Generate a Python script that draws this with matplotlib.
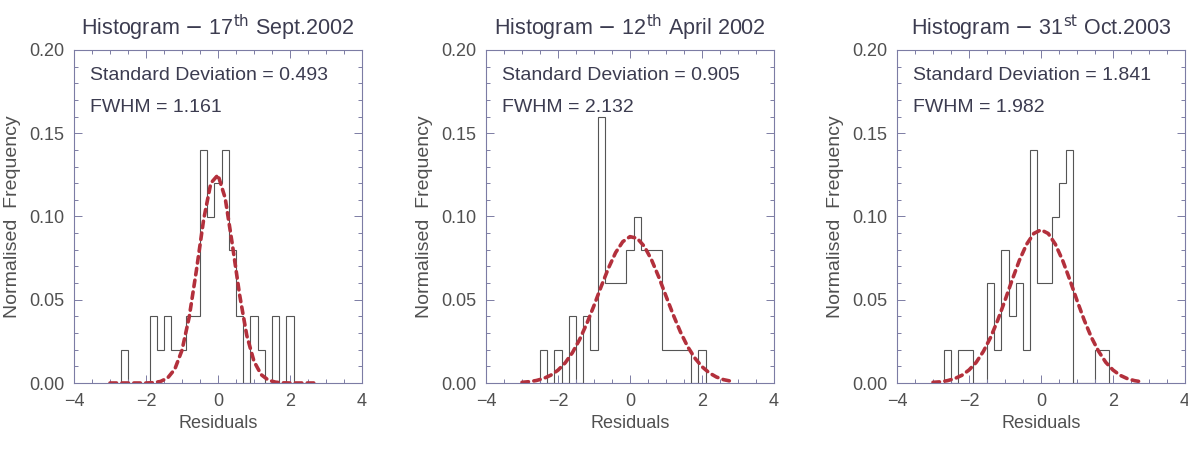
import matplotlib
matplotlib.use("Agg")
import matplotlib.pyplot as plt
from matplotlib.ticker import MultipleLocator

plt.rcParams['font.family'] = ['Liberation Sans', 'DejaVu Sans']

# panel titles / fit statistics
dates = [("17", "th", "Sept.2002"), ("12", "th", "April 2002"), ("31", "st", "Oct.2003")]
std_devs = ["0.493", "0.905", "1.841"]
fwhms = ["1.161", "2.132", "1.982"]

# histogram bin edges and normalised frequencies
edges_1 = [-2.7, -2.5, -2.3, -2.1, -1.9, -1.7, -1.5, -1.3, -1.1, -0.9, -0.7, -0.5, -0.3,
           -0.1, 0.1, 0.3, 0.5, 0.7, 0.9, 1.1, 1.3, 1.5, 1.7, 1.9, 2.1]
freq_1 = [0.02, 0, 0, 0, 0.04, 0.02, 0.04, 0.02, 0.02, 0.04, 0.04, 0.14, 0.10,
          0.12, 0.14, 0.08, 0.04, 0, 0.04, 0.02, 0, 0.04, 0, 0.04]

edges_2 = [-2.5, -2.3, -2.1, -1.9, -1.7, -1.5, -1.3, -1.1, -0.9, -0.7, -0.5, -0.3,
           -0.1, 0.1, 0.3, 0.5, 0.7, 0.9, 1.1, 1.3, 1.5, 1.7, 1.9, 2.1]
freq_2 = [0.02, 0, 0.02, 0, 0.04, 0, 0.04, 0.02, 0.16, 0.06, 0.06, 0.06,
          0.08, 0.10, 0.08, 0.08, 0.08, 0.02, 0.02, 0.02, 0.02, 0, 0.02]

edges_3 = [-2.7, -2.5, -2.3, -2.1, -1.9, -1.7, -1.5, -1.3, -1.1, -0.9, -0.7, -0.5, -0.3,
           -0.1, 0.1, 0.3, 0.5, 0.7, 0.9, 1.1, 1.3, 1.5, 1.7, 1.9]
freq_3 = [0.02, 0, 0.02, 0.02, 0, 0, 0.06, 0.02, 0.08, 0.04, 0.06, 0.02, 0.14,
          0.06, 0.06, 0.10, 0.12, 0.14, 0, 0, 0, 0.02, 0.02]

# gaussian fit curves (dashed), sampled points
fit_x = [-3.0, -2.8, -2.6, -2.4, -2.2, -2.0, -1.8, -1.6, -1.4, -1.2, -1.0, -0.8, -0.6, -0.4, -0.2,
         0.0, 0.2, 0.4, 0.6, 0.8, 1.0, 1.2, 1.4, 1.6, 1.8, 2.0, 2.2, 2.4, 2.6, 2.8]
fit_1 = [0, 0, 0, 0, 0, 0, 0.0002, 0.0009, 0.003, 0.0083, 0.0197, 0.0396, 0.0676, 0.098, 0.120,
         0.125, 0.111, 0.083, 0.053, 0.0285, 0.013, 0.005, 0.0017, 0.0005, 0.0001, 0, 0, 0, 0, 0]
fit_2 = [0.0004, 0.0008, 0.0015, 0.0027, 0.0047, 0.0077, 0.0121, 0.0182, 0.0261, 0.0357, 0.0465,
         0.058, 0.0689, 0.0783, 0.0849, 0.0879, 0.0869, 0.082, 0.0739, 0.0636, 0.0522, 0.041,
         0.0307, 0.0219, 0.015, 0.0098, 0.0061, 0.0036, 0.002, 0.0011]
fit_3 = [0.0004, 0.0007, 0.0014, 0.0026, 0.0046, 0.0078, 0.0124, 0.019, 0.0274, 0.0378, 0.0496,
         0.062, 0.0737, 0.0833, 0.0898, 0.092, 0.0898, 0.0833, 0.0737, 0.062, 0.0496, 0.0378,
         0.0274, 0.019, 0.0124, 0.0078, 0.0046, 0.0026, 0.0014, 0.0007]

edges = [edges_1, edges_2, edges_3]
freqs = [freq_1, freq_2, freq_3]
fits = [fit_1, fit_2, fit_3]

text_col = '#3c3c50'
axis_col = '#7c7ca4'
hist_col = '#555555'
fit_col = '#b3303c'

fig = plt.figure(figsize=(11.88, 4.49), dpi=100)
lefts = [74 / 1188, 486 / 1188, 897 / 1188]
width = 288 / 1188

for i in range(3):
    ax = fig.add_axes([lefts[i], 66 / 449, width, 333 / 449])
    ax.stairs(freqs[i], edges[i], color=hist_col, lw=0.8, baseline=0)
    ax.plot(fit_x, fits[i], color=fit_col, lw=2.6, linestyle=(0, (1.8, 1.5)),
            dash_capstyle='round')

    ax.set_xlim(-4, 4)
    ax.set_ylim(0, 0.2)
    ax.xaxis.set_major_locator(MultipleLocator(2))
    ax.xaxis.set_minor_locator(MultipleLocator(0.5))
    ax.yaxis.set_major_locator(MultipleLocator(0.05))
    ax.yaxis.set_minor_locator(MultipleLocator(0.01))
    ax.yaxis.set_major_formatter(lambda v, p: f"{v:.2f}")
    ax.tick_params(which='both', direction='in', top=True, right=True,
                   color=axis_col, width=0.7)
    ax.tick_params(which='major', length=6, labelsize=13, labelcolor='#505050', pad=7)
    ax.tick_params(which='minor', length=3)
    for s in ax.spines.values():
        s.set_color(axis_col)
        s.set_linewidth(0.8)

    day, sup, rest = dates[i]
    ax.set_title(f"Histogram $-$ {day}$^{{\\rm {sup}}}$ {rest}", fontsize=15.5,
                 color=text_col, pad=11)
    ax.set_xlabel("Residuals", fontsize=13, color='#505050', labelpad=4)
    ax.set_ylabel("Normalised  Frequency", fontsize=14, color='#505050', labelpad=6)

    ax.text(0.055, 0.922, f"Standard Deviation = {std_devs[i]}", transform=ax.transAxes,
            fontsize=14, color=text_col, va='center')
    ax.text(0.055, 0.826, f"FWHM = {fwhms[i]}", transform=ax.transAxes,
            fontsize=14, color=text_col, va='center')

fig.savefig("out.png", dpi=100)
